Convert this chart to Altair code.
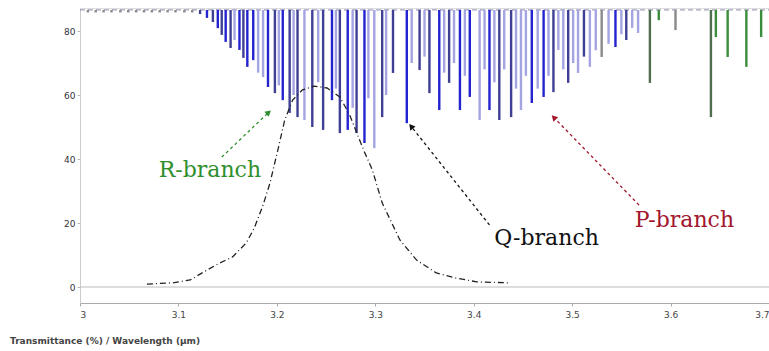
import altair as alt
import pandas as pd

# ---------------- data ----------------
TOP = 86.6  # level of the transmittance baseline the lines hang from

LINE_X = [3.008, 3.016, 3.024, 3.032, 3.041, 3.049, 3.057, 3.065, 3.073, 3.081,
          3.089, 3.097, 3.106, 3.114,
          3.122, 3.129, 3.135, 3.140, 3.144, 3.148, 3.153, 3.157, 3.162, 3.166,
          3.170, 3.176,
          3.181, 3.186, 3.191, 3.202, 3.198, 3.206, 3.213, 3.217, 3.221, 3.228,
          3.236, 3.242, 3.247, 3.256, 3.260, 3.264, 3.272, 3.277, 3.281, 3.289,
          3.293, 3.299, 3.307, 3.311, 3.318, 3.332, 3.337, 3.345, 3.350, 3.355,
          3.365, 3.370, 3.375, 3.380, 3.386, 3.391, 3.396, 3.406, 3.411, 3.416,
          3.421, 3.426, 3.431, 3.438, 3.443, 3.448, 3.453, 3.459, 3.465, 3.471,
          3.476, 3.481, 3.486, 3.491, 3.496, 3.501, 3.506, 3.512, 3.518, 3.524,
          3.530, 3.537, 3.544, 3.550, 3.555, 3.561, 3.567, 3.579, 3.588, 3.605,
          3.641, 3.646, 3.658, 3.677, 3.692]
LINE_Y = [85.8, 85.8, 85.8, 85.8, 85.8, 85.8, 85.8, 85.8, 85.8, 85.8,
          85.8, 85.8, 85.8, 85.8,
          85.3, 84.1, 82.8, 80.9, 78.8, 76.6, 74.7, 77.2, 74.1, 71.6,
          68.8, 70.9,
          67.0, 65.6, 62.5, 63.0, 60.6, 58.4, 54.4, 60.0, 53.1, 52.2,
          50.0, 64.0, 49.1, 58.4, 62.0, 48.1, 49.1, 56.0, 48.1, 45.0,
          59.0, 43.4, 53.1, 60.0, 66.9, 51.2, 70.0, 67.8, 72.0, 60.6,
          55.3, 67.0, 63.8, 70.0, 55.3, 66.0, 59.4, 52.2, 68.0, 55.3,
          64.0, 52.2, 68.0, 53.1, 62.0, 55.3, 66.0, 57.5, 62.0, 59.4,
          66.0, 60.9, 74.1, 68.0, 63.8, 70.0, 66.9, 72.0, 68.8, 74.0,
          71.9, 76.0, 75.0, 79.0, 77.2, 81.0, 79.4, 63.8, 83.4, 80.3,
          53.1, 78.1, 71.9, 68.8, 78.1]
LINE_KIND = ["grey"] * 14 + \
    ["navy", "blue", "navy", "blue", "navy", "blue", "navy", "light", "blue", "navy",
     "blue", "blue",
     "light", "light", "blue", "light", "navy", "blue", "navy", "light", "navy", "light",
     "navy", "light", "navy", "blue", "light", "navy", "blue", "light", "navy", "blue",
     "light", "light", "navy", "light", "navy", "blue", "light", "navy", "light", "navy",
     "blue", "light", "navy", "light", "blue", "light", "blue", "light", "light", "blue",
     "light", "navy", "light", "navy", "light", "light", "light", "blue", "light", "blue",
     "light", "navy", "light", "light", "navy", "light", "light", "navy", "light", "light",
     "grey", "light", "blue", "light", "navy", "light", "light", "darkgreen", "green", "grey",
     "darkgreen", "green", "green", "green", "green"]

CURVE_X = [3.068, 3.094, 3.112, 3.129, 3.142, 3.155, 3.169, 3.177, 3.186, 3.193,
           3.201, 3.208, 3.216, 3.226, 3.238, 3.251, 3.264, 3.274, 3.282, 3.289,
           3.297, 3.307, 3.325, 3.342, 3.362, 3.382, 3.403, 3.436]
CURVE_Y = [0.9, 1.3, 2.2, 5.3, 7.5, 9.4, 13.8, 18.4, 25.6, 32.5,
           42.8, 52.2, 58.4, 61.6, 62.8, 62.2, 59.4, 53.8, 47.5, 42.2,
           36.6, 26.3, 14.7, 8.4, 4.4, 2.8, 1.6, 1.3]

LABEL_TEXT = ["R-branch", "Q-branch", "P-branch"]
LABEL_X = [3.132, 3.474, 3.614]
LABEL_Y = [36.6, 15.3, 20.9]
LABEL_COLOR = ["#2f8f2f", "#111111", "#a3162c"]

ARROW_X1 = [3.144, 3.416, 3.568]
ARROW_Y1 = [40.6, 19.4, 25.6]
ARROW_X2 = [3.191, 3.337, 3.482]
ARROW_Y2 = [54.4, 50.0, 52.8]
ARROW_ANGLE = [49, 321, 316]

X_TICKS = [3.0, 3.1, 3.2, 3.3, 3.4, 3.5, 3.6, 3.7]
Y_TICKS = [0, 10, 20, 30, 40, 50, 60, 70, 80]
FOOTNOTE = "Transmittance (%) / Wavelength (µm)"

# ---------------- tables ----------------
lines = pd.DataFrame({"x": LINE_X, "y": LINE_Y, "kind": LINE_KIND})
lines["top"] = TOP
curve = pd.DataFrame({"x": CURVE_X, "y": CURVE_Y})
labels = pd.DataFrame({"t": LABEL_TEXT, "x": LABEL_X, "y": LABEL_Y, "c": LABEL_COLOR})
arrows = pd.DataFrame({"x1": ARROW_X1, "y1": ARROW_Y1, "x2": ARROW_X2, "y2": ARROW_Y2,
                       "c": LABEL_COLOR, "a": ARROW_ANGLE})
base_df = pd.DataFrame({"x1": [3.0], "x2": [3.7], "zero": [0], "top": [TOP]})

xs = alt.Scale(domain=[3.0, 3.7], nice=False, zero=False)
ys = alt.Scale(domain=[-5, 87.2], nice=False, zero=False)

xaxis = alt.Axis(values=X_TICKS, format="~f", title=None, grid=False, labelFontSize=9,
                 labelColor="#444", domainColor="#aaa", tickColor="#aaa", tickSize=3,
                 labelPadding=4, labelFont="DejaVu Sans")
yaxis = alt.Axis(values=Y_TICKS, title=None, grid=False, labelFontSize=9,
                 labelColor="#333", domainColor="#ccc", tickColor="#bbb", tickSize=3,
                 labelPadding=2, labelFont="DejaVu Sans")

kinds = ["blue", "light", "navy", "grey", "green", "darkgreen"]
kcolors = ["#2323cf", "#a4a4e2", "#3f3f95", "#8a8a8a", "#3b8d3b", "#4f6f4f"]

zero_rule = alt.Chart(base_df).mark_rule(color="#bbbbbb", strokeWidth=1).encode(
    x=alt.X("x1:Q", scale=xs, axis=xaxis), x2="x2:Q",
    y=alt.Y("zero:Q", scale=ys, axis=yaxis))

top_rule = alt.Chart(base_df).mark_rule(color="#8a8ab0", strokeWidth=1,
                                        strokeDash=[5, 3]).encode(
    x=alt.X("x1:Q", scale=xs), x2="x2:Q", y=alt.Y("top:Q", scale=ys))

spec = alt.Chart(lines).mark_rule(strokeWidth=2.4).encode(
    x=alt.X("x:Q", scale=xs),
    y=alt.Y("y:Q", scale=ys), y2="top:Q",
    color=alt.Color("kind:N", scale=alt.Scale(domain=kinds, range=kcolors), legend=None))

curve_line = alt.Chart(curve).mark_line(color="#222", strokeWidth=1.3,
                                        strokeDash=[6, 3, 1, 3]).encode(
    x=alt.X("x:Q", scale=xs), y=alt.Y("y:Q", scale=ys))

arrow_lines = alt.Chart(arrows).mark_rule(strokeWidth=1.3, strokeDash=[3, 3]).encode(
    x=alt.X("x1:Q", scale=xs), y=alt.Y("y1:Q", scale=ys), x2="x2:Q", y2="y2:Q",
    color=alt.Color("c:N", scale=None))

arrow_heads = alt.Chart(arrows).mark_point(shape="triangle", filled=True, size=45,
                                           opacity=1).encode(
    x=alt.X("x2:Q", scale=xs), y=alt.Y("y2:Q", scale=ys),
    angle=alt.Angle("a:Q", scale=None),
    color=alt.Color("c:N", scale=None))

label_marks = alt.Chart(labels).mark_text(font="DejaVu Serif", fontSize=22).encode(
    x=alt.X("x:Q", scale=xs), y=alt.Y("y:Q", scale=ys), text="t:N",
    color=alt.Color("c:N", scale=None))

foot = alt.Chart(pd.DataFrame({"t": [FOOTNOTE]})).mark_text(
    font="DejaVu Sans", fontSize=9, fontWeight="bold", color="#444", align="left",
    baseline="middle").encode(x=alt.value(-70), y=alt.value(333), text="t:N")

chart = alt.layer(zero_rule, top_rule, spec, curve_line, arrow_lines, arrow_heads,
                  label_marks, foot).properties(
    width=689, height=295,
    autosize=alt.AutoSizeParams(type="none"),
    padding={"left": 80, "top": 8, "right": 0, "bottom": 48},
).configure_view(stroke=None).configure(background="white")

chart.save("out.html", embed_options={"renderer": "svg", "actions": False})
